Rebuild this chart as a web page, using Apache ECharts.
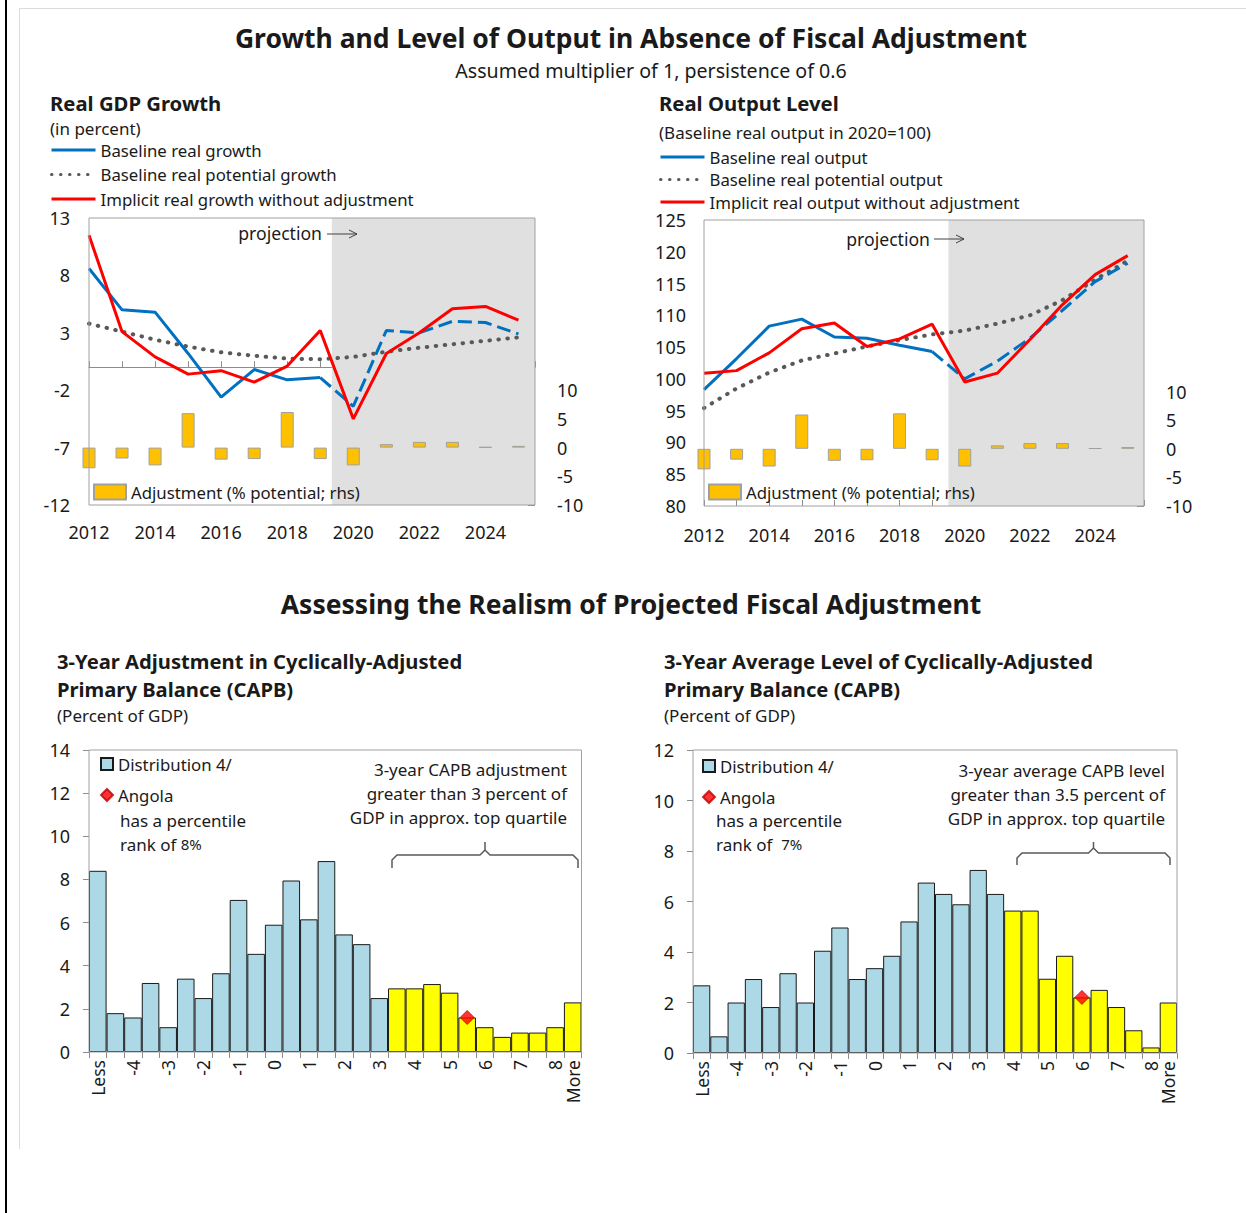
<!DOCTYPE html>
<html>
<head>
<meta charset="utf-8">
<title>Output without fiscal adjustment and CAPB realism</title>
<script src="https://cdn.jsdelivr.net/npm/echarts@6/dist/echarts.min.js"></script>
<style>
  html, body { margin: 0; padding: 0; background: #fff; overflow: hidden; }
  #edge { position: absolute; left: 5px; top: 0; width: 2px; height: 1213px; background: #000; }
  #box { position: absolute; left: 19px; top: 8px; width: 1227px; height: 1140px; border-left: 1px solid #dcdcdc; border-top: 1px solid #dcdcdc; }
  #chart { position: absolute; left: 0; top: 0; width: 1246px; height: 1213px; }
</style>
</head>
<body>
<div id="edge"></div>
<div id="box"></div>
<div id="chart"></div>
<script>
// --- DATA: top panels (years on x) ---
const years = [2012, 2013, 2014, 2015, 2016, 2017, 2018, 2019, 2020, 2021, 2022, 2023, 2024, 2025];
const growthBaseline = [8.6, 5.0, 4.8, 1.2, -2.6, -0.2, -1.1, -0.9, -3.4, 3.2, 3.0, 4.0, 3.9, 2.9];
const growthPotential = [3.8, 3.1, 2.4, 1.8, 1.3, 1.0, 0.75, 0.7, 0.9, 1.35, 1.7, 2.0, 2.3, 2.6];
const growthNoAdj = [11.5, 3.1, 0.9, -0.6, -0.3, -1.3, 0.1, 3.2, -4.5, 1.2, 3.0, 5.1, 5.3, 4.1];
const outputBaseline = [98.3, 103.2, 108.3, 109.4, 106.6, 106.4, 105.3, 104.3, 100.0, 102.8, 106.4, 110.8, 115.3, 118.2];
const outputPotential = [95.4, 98.5, 101.0, 102.9, 104.0, 105.1, 106.1, 107.0, 107.6, 108.7, 110.0, 112.4, 115.6, 118.6];
const outputNoAdj = [100.9, 101.3, 104.1, 107.9, 108.8, 105.1, 106.3, 108.6, 99.5, 100.9, 106.2, 111.7, 116.4, 119.4];
const adjustment = [-3.6, -1.9, -3.1, 6.0, -2.1, -2.0, 6.2, -2.0, -3.1, 0.6, 1.0, 1.0, 0.1, 0.3];
const growthTicks = [-12, -7, -2, 3, 8, 13];
const dashFromYear = 2019;          // baseline drawn dashed from here on
const projStartGrowth = 2019.35;    // start of grey projection band
const projStartLevel = 2019.5;
const lastX = 2025.5;

// --- DATA: bottom panels (histograms) ---
const bins = ['Less', '-4.5', '-4', '-3.5', '-3', '-2.5', '-2', '-1.5', '-1', '-0.5', '0', '0.5', '1', '1.5',
  '2', '2.5', '3', '3.5', '4', '4.5', '5', '5.5', '6', '6.5', '7', '7.5', '8', 'More'];
const capbAdjDist = [8.4, 1.8, 1.6, 3.2, 1.15, 3.4, 2.5, 3.65, 7.05, 4.55, 5.9, 7.95, 6.15, 8.85,
  5.45, 5.0, 2.5, 2.95, 2.95, 3.15, 2.75, 1.6, 1.15, 0.7, 0.9, 0.9, 1.15, 2.3];
const capbLevelDist = [2.68, 0.66, 2.0, 2.93, 1.82, 3.16, 2.0, 4.05, 4.97, 2.93, 3.36, 3.85, 5.21, 6.75,
  6.3, 5.89, 7.25, 6.3, 5.64, 5.64, 2.94, 3.85, 2.2, 2.5, 1.82, 0.9, 0.22, 2.0];
const adjTopBin = '3.5';     // first bin of the top quartile
const levelTopBin = '4';
const angolaAdj = ['5.5', 1.6];
const angolaLevel = ['6', 2.2];
const angolaAdjRank = '8%';
const angolaLevelRank = '7%';

// --- STYLE ---
const FONT = 'Noto Sans';
const TXT = '#1a1a1a';
const FRAME = '#a0a0a0';
const BLUE = '#0070C0';
const RED = '#FF0000';
const DOTS = '#595959';
const GOLD = '#FFC000';
const LIGHTBLUE = '#ADD8E6';
const YELLOW = '#FFFF00';

const pairs = (vals) => years.map((y, i) => [y, vals[i]]);
const yearLabel = (v) => (v % 2 === 0 ? String(v) : '');
const binLabel = (v) => (v === 'Less' || v === 'More' || Number.isInteger(Number(v)) ? v : '');
const rhsLabel = (v) => (v <= 10 ? String(v) : '');
const lbl = (size, extra) => Object.assign({ color: TXT, fontSize: size, fontFamily: FONT }, extra || {});

// --- HELPERS ---
function lineSeries(name, vals, xi, yi, lineStyle, z) {
  return {
    name: name, type: 'line', xAxisIndex: xi, yAxisIndex: yi, symbol: 'none', z: z,
    data: vals, lineStyle: lineStyle, itemStyle: { color: lineStyle.color }
  };
}

function topPanel(xi, yi, yiR, baseName, potName, noAdjName, base, pot, noAdj, projStart) {
  const all = pairs(base);
  const cut = years.indexOf(dashFromYear);
  return [
    {
      name: 'Adjustment (% potential; rhs)', type: 'bar', xAxisIndex: xi, yAxisIndex: yiR,
      barWidth: 13, data: pairs(adjustment), z: 2,
      itemStyle: { color: GOLD, borderColor: '#a0a0a0', borderWidth: 1 },
      markArea: {
        silent: true, itemStyle: { color: '#e0e0e0' },
        data: [[{ xAxis: projStart }, { xAxis: lastX }]]
      }
    },
    lineSeries(baseName, all.slice(0, cut + 1), xi, yi, { color: BLUE, width: 3 }, 4),
    lineSeries(baseName, all.slice(cut), xi, yi, { color: BLUE, width: 3, type: [14, 6] }, 4),
    lineSeries(potName, pairs(pot), xi, yi, { color: DOTS, width: 4, type: [0.5, 8.5], cap: 'round' }, 3),
    lineSeries(noAdjName, pairs(noAdj), xi, yi, { color: RED, width: 3 }, 5)
  ];
}

function histSeries(xi, yi, dist, topBin, angola) {
  const start = bins.indexOf(topBin);
  return [
    {
      name: 'Distribution 4/', type: 'bar', xAxisIndex: xi, yAxisIndex: yi, barCategoryGap: '0%',
      itemStyle: { color: LIGHTBLUE, borderColor: '#1a1a1a', borderWidth: 1 },
      data: dist.map((v, i) => ({ value: v, itemStyle: { color: i >= start ? YELLOW : LIGHTBLUE } }))
    },
    {
      name: 'Angola', type: 'scatter', xAxisIndex: xi, yAxisIndex: yi, symbol: 'diamond', symbolSize: 14, z: 5,
      itemStyle: { color: RED, borderColor: '#c00000', borderWidth: 1 },
      data: [angola]
    }
  ];
}

const yearAxis = (grid, margin, ticks) => ({
  gridIndex: grid, type: 'value', min: years[0], max: lastX, interval: 1, position: 'bottom',
  axisLine: { show: false, onZero: false },
  axisTick: ticks ? { show: true, inside: true, length: 6, lineStyle: { color: '#8c8c8c' } } : { show: false },
  splitLine: { show: false },
  axisLabel: lbl(18, { formatter: yearLabel, margin: margin })
});

const rhsAxis = (grid) => ({
  gridIndex: grid, type: 'value', min: -10, max: 40, interval: 5, position: 'right',
  axisLine: { show: false },
  axisTick: { show: true, inside: true, length: 7, lineStyle: { color: '#8c8c8c' } },
  splitLine: { show: false },
  axisLabel: lbl(18, { formatter: rhsLabel, margin: 22 })
});

const binAxis = (grid) => ({
  gridIndex: grid, type: 'category', data: bins, boundaryGap: true,
  axisLine: { show: false },
  axisTick: { show: true, interval: 0, length: 6, lineStyle: { color: '#8c8c8c' } },
  axisLabel: lbl(17.5, { interval: 0, rotate: 90, formatter: binLabel, margin: 8 })
});

const countAxis = (grid, max) => ({
  gridIndex: grid, type: 'value', min: 0, max: max, interval: 2,
  axisLine: { show: false },
  axisTick: { show: true, length: 6, lineStyle: { color: '#8c8c8c' } },
  splitLine: { show: false },
  axisLabel: lbl(18, { margin: 19 })
});

// --- TEXT / ANNOTATIONS ---
function txt(text, x, y, size, opt) {
  opt = opt || {};
  const align = opt.align || 'left';
  return {
    type: 'text', silent: true, z: 20,
    style: {
      text: text, x: x, y: y, fill: TXT,
      fontSize: size, fontFamily: FONT, fontWeight: opt.bold ? 'bold' : 'normal',
      textAlign: align, align: align, textVerticalAlign: 'middle', verticalAlign: 'middle',
      rich: opt.rich
    }
  };
}
const stroke = { stroke: '#404040', lineWidth: 1, fill: null };
const arrow = (x1, x2, y) => [
  { type: 'line', silent: true, z: 20, shape: { x1: x1, y1: y, x2: x2, y2: y }, style: stroke },
  { type: 'polyline', silent: true, z: 20, shape: { points: [[x2 - 8, y - 4], [x2, y], [x2 - 8, y + 4]] }, style: stroke }
];
const bracket = (x1, x2, y, yEnd, yTip) => {
  const xm = (x1 + x2) / 2;
  return {
    type: 'polyline', silent: true, z: 20,
    shape: { points: [[x1, yEnd], [x1, y + 5], [x1 + 5, y], [xm - 5, y], [xm, y - 5], [xm, yTip],
      [xm, y - 5], [xm + 5, y], [x2 - 5, y], [x2, y + 5], [x2, yEnd]] },
    style: { stroke: '#595959', lineWidth: 1.5, fill: null }
  };
};
const small = { s: { fontSize: 15, fontFamily: FONT, fill: TXT } };

const graphics = [
  txt('Growth and Level of Output in Absence of Fiscal Adjustment', 631, 38, 26.5, { bold: true, align: 'center' }),
  txt('Assumed multiplier of 1, persistence of 0.6', 651, 70, 19.6, { align: 'center' }),
  txt('Real GDP Growth', 50, 103, 20.3, { bold: true }),
  txt('(in percent)', 50, 128, 17),
  txt('Real Output Level', 659, 103, 20.3, { bold: true }),
  txt('(Baseline real output in 2020=100)', 659, 132, 17),
  txt('projection', 322, 233, 17.6, { align: 'right' }),
  txt('projection', 930, 239, 17.6, { align: 'right' }),
  ...arrow(327, 357, 234),
  ...arrow(934, 964, 239),
  txt('Assessing the Realism of Projected Fiscal Adjustment', 631, 604, 26.5, { bold: true, align: 'center' }),
  txt('3-Year Adjustment in Cyclically-Adjusted', 57, 661, 20.2, { bold: true }),
  txt('Primary Balance (CAPB)', 57, 689, 20.2, { bold: true }),
  txt('(Percent of GDP)', 57, 715, 17),
  txt('3-Year Average Level of Cyclically-Adjusted', 664, 661, 20.2, { bold: true }),
  txt('Primary Balance (CAPB)', 664, 689, 20.2, { bold: true }),
  txt('(Percent of GDP)', 664, 715, 17),
  txt('has a percentile', 120, 820, 17),
  txt('rank of {s|' + angolaAdjRank + '}', 120, 844, 17, { rich: small }),
  txt('has a percentile', 716, 820, 17),
  txt('rank of  {s|' + angolaLevelRank + '}', 716, 844, 17, { rich: small }),
  txt('3-year CAPB adjustment', 567, 769, 17, { align: 'right' }),
  txt('greater than 3 percent of', 567, 793, 17, { align: 'right' }),
  txt('GDP in approx. top quartile', 567, 817, 17, { align: 'right' }),
  txt('3-year average CAPB level', 1165, 770, 17, { align: 'right' }),
  txt('greater than 3.5 percent of', 1165, 794, 17, { align: 'right' }),
  txt('GDP in approx. top quartile', 1165, 818, 17, { align: 'right' }),
  bracket(392, 578, 855, 868, 842),
  bracket(1017, 1170, 853, 865, 842)
];

// --- LEGENDS ---
const legendText = lbl(16.8, { lineHeight: 20 });
const lineLegend = (left, top, gap, names) => ({
  left: left, top: top, padding: 0, orient: 'vertical', itemWidth: 44, itemHeight: 14, itemGap: gap,
  itemStyle: { opacity: 0 }, lineStyle: { width: 3 },
  textStyle: legendText, selectedMode: false, data: names
});
const boxLegend = (left, top, data, w, h, gap) => ({
  left: left, top: top, padding: 0, orient: 'vertical', itemWidth: w, itemHeight: h, itemGap: gap,
  textStyle: legendText, selectedMode: false, data: data
});

// --- CHART ---
const chart = echarts.init(document.getElementById('chart'), null, { renderer: 'svg' });

const option = {
  animation: false,
  textStyle: { fontFamily: FONT },
  grid: [
    { left: 89, top: 218, width: 446, height: 287, show: true, z: 10, borderColor: FRAME, backgroundColor: 'transparent' },
    { left: 704, top: 220, width: 440, height: 286, show: true, z: 10, borderColor: FRAME, backgroundColor: 'transparent' },
    { left: 89, top: 750, width: 492.5, height: 302, show: true, z: 10, borderColor: FRAME, backgroundColor: 'transparent' },
    { left: 693, top: 750, width: 484, height: 303, show: true, z: 10, borderColor: FRAME, backgroundColor: 'transparent' }
  ],
  xAxis: [
    yearAxis(0, 18, false),
    {
      // zero line of the growth panel, with year ticks
      gridIndex: 0, type: 'value', min: years[0], max: lastX, interval: 1, position: 'bottom',
      axisLine: { show: true, onZero: true, onZeroAxisIndex: 0, lineStyle: { color: '#8c8c8c', width: 1 } },
      axisTick: { show: true, inside: true, length: 6, lineStyle: { color: '#8c8c8c' } },
      axisLabel: { show: false }, splitLine: { show: false }
    },
    yearAxis(1, 20, true),
    binAxis(2),
    binAxis(3)
  ],
  yAxis: [
    {
      gridIndex: 0, type: 'value', min: growthTicks[0], max: growthTicks[growthTicks.length - 1], position: 'left',
      axisLine: { show: false }, axisTick: { show: false }, splitLine: { show: false },
      axisLabel: lbl(18, { customValues: growthTicks, margin: 19 })
    },
    rhsAxis(0),
    {
      gridIndex: 1, type: 'value', min: 80, max: 125, interval: 5, position: 'left',
      axisLine: { show: false }, axisTick: { show: false }, splitLine: { show: false },
      axisLabel: lbl(18, { margin: 18 })
    },
    rhsAxis(1),
    countAxis(2, 14),
    countAxis(3, 12)
  ],
  legend: [
    lineLegend(50, 140, 4.5, ['Baseline real growth', 'Baseline real potential growth', 'Implicit real growth without adjustment']),
    lineLegend(659, 147, 2.5, ['Baseline real output', 'Baseline real potential output', 'Implicit real output without adjustment']),
    boxLegend(93, 482, [{ name: 'Adjustment (% potential; rhs)', icon: 'rect' }], 32, 15, 0),
    boxLegend(708, 482, [{ name: 'Adjustment (% potential; rhs)', icon: 'rect' }], 32, 15, 0),
    boxLegend(100, 754, [{ name: 'Distribution 4/', icon: 'rect' }, { name: 'Angola', icon: 'diamond' }], 12, 12, 11),
    boxLegend(702, 756, [{ name: 'Distribution 4/', icon: 'rect' }, { name: 'Angola', icon: 'diamond' }], 12, 12, 11)
  ],
  series: [
    ...topPanel(0, 0, 1, 'Baseline real growth', 'Baseline real potential growth',
      'Implicit real growth without adjustment', growthBaseline, growthPotential, growthNoAdj, projStartGrowth),
    ...topPanel(2, 2, 3, 'Baseline real output', 'Baseline real potential output',
      'Implicit real output without adjustment', outputBaseline, outputPotential, outputNoAdj, projStartLevel),
    ...histSeries(3, 4, capbAdjDist, adjTopBin, angolaAdj),
    ...histSeries(4, 5, capbLevelDist, levelTopBin, angolaLevel)
  ],
  graphic: graphics
};

chart.setOption(option);
</script>
</body>
</html>
